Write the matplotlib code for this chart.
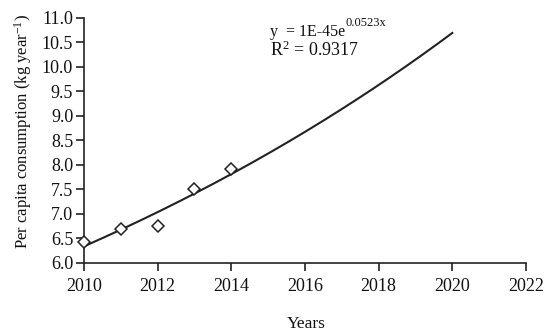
import numpy as np
import matplotlib
matplotlib.use("Agg")
import matplotlib.pyplot as plt

plt.rcParams['font.family'] = ['Liberation Serif', 'DejaVu Serif']
plt.rcParams['mathtext.fontset'] = 'custom'
plt.rcParams['mathtext.rm'] = 'Liberation Serif'
plt.rcParams['mathtext.it'] = 'Liberation Serif:italic'

# Observed per capita consumption
years = [2010, 2011, 2012, 2013, 2014]
consumption = [6.42, 6.68, 6.75, 7.50, 7.92]

# Exponential trend: y = a * exp(b * x)
growth_rate = 0.0523
r_squared = 0.9317
trend_start, trend_end = 2010, 2020

x_ticks = [2010, 2012, 2014, 2016, 2018, 2020, 2022]
y_ticks = [6.0, 6.5, 7.0, 7.5, 8.0, 8.5, 9.0, 9.5, 10.0, 10.5, 11.0]

# Intercept from the observations with the fixed growth rate
ln_a = np.mean(np.log(consumption) - growth_rate * np.array(years))
xt = np.linspace(trend_start, trend_end, 200)
yt = np.exp(ln_a + growth_rate * xt)

fig = plt.figure(figsize=(5.45, 3.31), dpi=100)
ax = fig.add_axes([0.1541, 0.2063, 0.811, 0.7408])

ink = '#222222'
txt = '#111111'
ax.plot(xt, yt, color=ink, lw=1.5, zorder=2)
ax.plot(years, consumption, linestyle='none', marker='D', markersize=6,
        markerfacecolor='white', markeredgecolor=ink, markeredgewidth=1.1,
        zorder=3, clip_on=False)

ax.set_xlim(2010, 2022)
ax.set_ylim(6.0, 11.0)
ax.set_xticks(x_ticks)
ax.set_yticks(y_ticks)
ax.set_xticklabels([str(t) for t in x_ticks])
ax.set_yticklabels([f"{t:.1f}" for t in y_ticks])

for s in ['top', 'right']:
    ax.spines[s].set_visible(False)
for s in ['left', 'bottom']:
    ax.spines[s].set_color(ink)
    ax.spines[s].set_linewidth(1.2)
ax.tick_params(axis='both', direction='out', length=5.8, width=1.2, color=ink,
               labelsize=13, labelcolor=txt)
ax.tick_params(axis='x', pad=5)
ax.tick_params(axis='y', pad=2)

ax.set_xlabel('Years', fontsize=12.5, color=txt)
ax.xaxis.set_label_coords(0.503, -0.218)
ax.set_ylabel('Per capita consumption (kg year$^{-1}$)', fontsize=12, color=txt)
ax.yaxis.set_label_coords(-0.113, 0.535)

# Trend equation and goodness of fit
eq = ax.text(2015.05, 10.623, 'y  = 1E-45e', fontsize=11.5, color=txt,
             va='baseline')
ax.annotate('0.0523x', xy=(1.0, 0.66), xycoords=eq, xytext=(0.3, 0),
            textcoords='offset points', fontsize=9, color=txt,
            ha='left', va='bottom')
ax.text(2015.05, 10.215, f'R$^{{\\mathrm{{2}}}}$ = {r_squared}', fontsize=13,
        color=txt, va='baseline')

fig.savefig('out.png', dpi=100)
